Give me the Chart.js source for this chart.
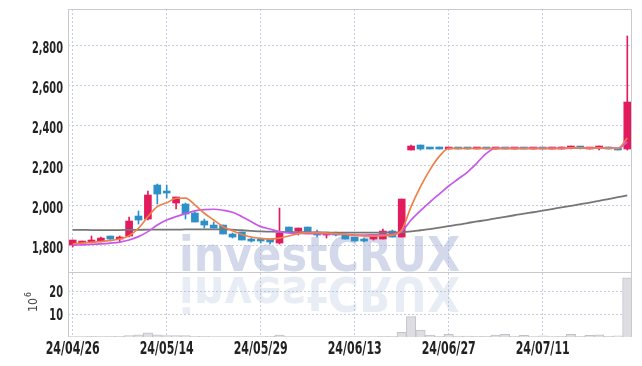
<!DOCTYPE html>
<html>
<head>
<meta charset="utf-8">
<script src="https://cdn.jsdelivr.net/npm/chart.js@4.4.1/dist/chart.umd.min.js"></script>
<style>
  html, body { margin: 0; padding: 0; background: #fff; }
  #contenedor { width: 642px; height: 366px; }
</style>
</head>
<body>
<div id="contenedor"><canvas id="grafico"></canvas></div>
<script>
// fechas de cotización (días hábiles)
const fechas = [
    '24/04/26', '24/04/29', '24/04/30', '24/05/02', '24/05/03', '24/05/07', '24/05/08', '24/05/09', '24/05/10', '24/05/13',
    '24/05/14', '24/05/16', '24/05/17', '24/05/20', '24/05/21', '24/05/22', '24/05/23', '24/05/24', '24/05/27', '24/05/28',
    '24/05/29', '24/05/30', '24/05/31', '24/06/03', '24/06/04', '24/06/05', '24/06/07', '24/06/10', '24/06/11', '24/06/12',
    '24/06/13', '24/06/14', '24/06/17', '24/06/18', '24/06/19', '24/06/20', '24/06/21', '24/06/24', '24/06/25', '24/06/26',
    '24/06/27', '24/06/28', '24/07/01', '24/07/02', '24/07/03', '24/07/04', '24/07/05', '24/07/08', '24/07/09', '24/07/10',
    '24/07/11', '24/07/12', '24/07/15', '24/07/16', '24/07/17', '24/07/18', '24/07/19', '24/07/22', '24/07/23', '24/07/24'
];

const apertura = [
    1800, 1810, 1815, 1820, 1845, 1830, 1845, 1945, 1930, 2100,
    2065, 2010, 2005, 1960, 1920, 1900, 1900, 1855, 1865, 1825,
    1825, 1830, 1810, 1890, 1870, 1890, 1865, 1850, 1860, 1850,
    1840, 1830, 1830, 1830, 1870, 1840, 2275, 2300, 2285, 2285,
    2280, 2285, 2285, 2280, 2285, 2280, 2285, 2280, 2285, 2280,
    2285, 2280, 2280, 2285, 2290, 2280, 2285, 2285, 2280, 2280
];
const maximo = [
    1825, 1820, 1845, 1840, 1845, 1845, 1940, 1970, 2070, 2105,
    2100, 2040, 2010, 1965, 1930, 1915, 1900, 1860, 1865, 1835,
    1830, 1830, 1985, 1890, 1885, 1890, 1875, 1860, 1865, 1850,
    1840, 1835, 1850, 1880, 1875, 2030, 2300, 2300, 2285, 2290,
    2285, 2285, 2285, 2285, 2285, 2285, 2285, 2285, 2285, 2285,
    2285, 2285, 2290, 2295, 2290, 2285, 2295, 2290, 2280, 2845
];
const minimo = [
    1790, 1810, 1810, 1815, 1820, 1815, 1840, 1905, 1925, 2005,
    2035, 1980, 1930, 1915, 1885, 1885, 1855, 1835, 1825, 1815,
    1810, 1805, 1805, 1860, 1850, 1860, 1840, 1835, 1845, 1830,
    1820, 1815, 1825, 1830, 1840, 1840, 2275, 2275, 2280, 2280,
    2280, 2280, 2280, 2280, 2280, 2280, 2280, 2280, 2280, 2280,
    2280, 2280, 2280, 2280, 2280, 2280, 2275, 2280, 2275, 2275
];
const cierre = [
    1825, 1815, 1820, 1835, 1830, 1835, 1920, 1925, 2050, 2055,
    2060, 2040, 1955, 1915, 1900, 1885, 1855, 1840, 1825, 1820,
    1820, 1815, 1860, 1865, 1885, 1865, 1850, 1855, 1850, 1830,
    1820, 1820, 1845, 1870, 1840, 2030, 2295, 2280, 2280, 2280,
    2285, 2280, 2280, 2285, 2280, 2285, 2280, 2285, 2280, 2285,
    2280, 2285, 2285, 2290, 2285, 2285, 2290, 2280, 2275, 2515
];

// volumen en millones
const volumen = [
    0.2, 0.2, 0.3, 0.2, 0.3, 0.3, 0.6, 1.0, 1.8, 1.0,
    0.6, 0.6, 0.6, 0.3, 0.3, 0.2, 0.2, 0.2, 0.2, 0.2,
    0.2, 0.3, 0.9, 0.2, 0.2, 0.2, 0.2, 0.2, 0.2, 0.2,
    0.2, 0.2, 0.2, 0.3, 0.3, 2.1, 9.0, 3.1, 0.9, 0.3,
    1.2, 0.4, 0.4, 0.3, 0.3, 0.9, 1.2, 0.3, 0.7, 0.2,
    0.5, 0.2, 0.3, 1.2, 0.3, 0.7, 1.0, 0.3, 0.5, 26.0
];

// medias móviles
const media5 = [
    1805, 1810, 1813, 1817, 1823, 1830, 1847, 1884, 1942, 1992,
    2011, 2034, 2035, 2001, 1959, 1925, 1892, 1872, 1853, 1840,
    1833, 1830, 1835, 1845, 1857, 1862, 1862, 1860, 1857, 1854,
    1848, 1846, 1845, 1847, 1850, 1875, 1992, 2092, 2176, 2243,
    2283, 2283, 2283, 2283, 2283, 2283, 2283, 2283, 2283, 2283,
    2283, 2283, 2284, 2286, 2286, 2285, 2286, 2285, 2283, 2335
];
const media10 = [
    1800, 1801, 1803, 1806, 1810, 1815, 1825, 1842, 1867, 1900,
    1925, 1942, 1957, 1971, 1977, 1979, 1974, 1964, 1942, 1917,
    1892, 1880, 1867, 1861, 1859, 1857, 1857, 1856, 1855, 1853,
    1850, 1850, 1851, 1852, 1854, 1868, 1925, 1972, 2015, 2055,
    2095, 2130, 2165, 2210, 2258, 2283, 2283, 2283, 2283, 2283,
    2283, 2283, 2283, 2284, 2284, 2284, 2285, 2285, 2284, 2315
];
const mediaLarga = [
    1876, 1876, 1875, 1875, 1875, 1875, 1876, 1876, 1877, 1877,
    1877, 1877, 1878, 1878, 1878, 1878, 1878, 1877, 1874, 1871,
    1868, 1867, 1866, 1865, 1864, 1864, 1863, 1863, 1862, 1862,
    1862, 1862, 1862, 1863, 1863, 1864, 1868, 1874, 1880, 1887,
    1895, 1902, 1910, 1918, 1925, 1933, 1941, 1949, 1957, 1964,
    1972, 1980, 1988, 1996, 2004, 2012, 2021, 2030, 2039, 2048
];

const ticksPrecio = [1800, 2000, 2200, 2400, 2600, 2800];
const ticksVolumen = [10, 20];

const ROJO = '#e11b5c';
const AZUL = '#2e90c8';
const GRID = '#c6cbe0';
const FUENTE = '"DejaVu Sans", sans-serif';

document.addEventListener('DOMContentLoaded', function() {
    const canvas = document.getElementById('grafico');
    const colores = cierre.map((c, i) => c >= apertura[i] ? ROJO : AZUL);

    const marcaAgua = {
        id: 'marcaAgua',
        beforeDatasetsDraw(chart) {
            const ctx = chart.ctx;
            const texto = 'investCRUX';
            ctx.save();
            ctx.font = 'bold 48px "DejaVu Sans"';
            const escalaX = 281 / ctx.measureText(texto).width;
            ctx.textBaseline = 'alphabetic';
            ctx.save();
            ctx.translate(179, 271);
            ctx.scale(escalaX, 1);
            ctx.fillStyle = 'rgba(168,180,215,0.5)';
            ctx.fillText(texto, 0, 0);
            ctx.restore();
            // reflejo
            ctx.translate(179, 277);
            ctx.scale(escalaX, -1);
            ctx.fillStyle = 'rgba(168,180,215,0.26)';
            ctx.fillText(texto, 0, 0);
            ctx.restore();
        }
    };

    // etiquetas de los ejes, comprimidas a lo ancho como en el original
    function escribir(ctx, texto, x, y, escala) {
        ctx.save();
        ctx.translate(x, y);
        ctx.scale(escala, 1);
        ctx.fillText(texto, 0, 0);
        ctx.restore();
    }

    const marcos = {
        id: 'marcos',
        afterDraw(chart) {
            const ctx = chart.ctx;
            const area = chart.chartArea;
            const sep = chart.scales.y.bottom;
            ctx.save();
            ctx.strokeStyle = '#c9c9d2';
            ctx.lineWidth = 1;
            ctx.beginPath();
            ctx.moveTo(area.left + 0.5, area.bottom);
            ctx.lineTo(area.left + 0.5, area.top + 0.5);
            ctx.lineTo(area.right - 0.5, area.top + 0.5);
            ctx.lineTo(area.right - 0.5, area.bottom);
            ctx.moveTo(area.left, Math.round(sep) + 0.5);
            ctx.lineTo(area.right, Math.round(sep) + 0.5);
            ctx.stroke();

            ctx.fillStyle = '#222';
            ctx.textBaseline = 'middle';
            ctx.textAlign = 'right';
            ctx.font = 'bold 15px ' + FUENTE;
            const escY = 31 / ctx.measureText('2,800').width;
            ticksPrecio.forEach(v => {
                escribir(ctx, v.toLocaleString('en-US'), 63, chart.scales.y.getPixelForValue(v) + 4, escY);
            });
            ticksVolumen.forEach(v => {
                escribir(ctx, String(v), 63, chart.scales.yv.getPixelForValue(v) + 2, escY);
            });
            ctx.textAlign = 'center';
            ctx.font = 'bold 17px ' + FUENTE;
            const escX = 54 / ctx.measureText('24/04/26').width;
            chart.scales.x.ticks.forEach(t => {
                escribir(ctx, fechas[t.value], chart.scales.x.getPixelForValue(t.value), 350, escX);
            });

            // unidad del volumen
            ctx.fillStyle = '#444';
            ctx.textAlign = 'left';
            ctx.textBaseline = 'alphabetic';
            ctx.translate(37, 312);
            ctx.rotate(-Math.PI / 2);
            ctx.font = '13px ' + FUENTE;
            escribir(ctx, '10', 0, 0, 0.85);
            const w = ctx.measureText('10').width * 0.85;
            ctx.font = '9px ' + FUENTE;
            escribir(ctx, '6', w + 1, -6, 0.85);
            ctx.restore();
        }
    };

    new Chart(canvas, {
        type: 'bar',
        data: {
            labels: fechas,
            datasets: [
                {
                    type: 'line',
                    data: media5,
                    borderColor: '#f0804a',
                    borderWidth: 1.7,
                    pointRadius: 0,
                    cubicInterpolationMode: 'monotone',
                    yAxisID: 'y',
                    order: 0
                },
                {
                    type: 'line',
                    data: media10,
                    borderColor: '#c957ea',
                    borderWidth: 1.7,
                    pointRadius: 0,
                    cubicInterpolationMode: 'monotone',
                    yAxisID: 'y',
                    order: 1
                },
                {
                    type: 'line',
                    data: mediaLarga,
                    borderColor: '#767676',
                    borderWidth: 1.8,
                    pointRadius: 0,
                    cubicInterpolationMode: 'monotone',
                    yAxisID: 'y',
                    order: 2
                },
                {
                    data: apertura.map((a, i) => [a, cierre[i]]),
                    backgroundColor: colores,
                    barThickness: 7,
                    minBarLength: 2,
                    grouped: false,
                    yAxisID: 'y',
                    order: 3
                },
                {
                    data: minimo.map((m, i) => [m, maximo[i]]),
                    backgroundColor: colores,
                    barThickness: 1,
                    grouped: false,
                    yAxisID: 'y',
                    order: 4
                },
                {
                    data: volumen,
                    backgroundColor: '#dddde2',
                    borderColor: '#c2c2ca',
                    borderWidth: 1,
                    barPercentage: 1,
                    categoryPercentage: 1,
                    grouped: false,
                    yAxisID: 'yv',
                    order: 5
                }
            ]
        },
        options: {
            responsive: true,
            maintainAspectRatio: false,
            animation: false,
            layout: { padding: { top: 9, right: 10, left: 0, bottom: 0 } },
            plugins: {
                legend: { display: false },
                tooltip: { enabled: false }
            },
            scales: {
                x: {
                    type: 'category',
                    offset: true,
                    grid: { offset: false, color: GRID, drawTicks: false },
                    border: { display: false, dash: [2, 2] },
                    ticks: { display: false, autoSkip: false, maxRotation: 0 },
                    afterBuildTicks: function(eje) {
                        eje.ticks = eje.ticks.filter(t => t.value % 10 === 0);
                    },
                    afterFit: function(eje) { eje.height = 29; }
                },
                yv: {
                    position: 'left',
                    stack: 'panel',
                    stackWeight: 1,
                    min: 0,
                    max: 28.6,
                    grid: { color: GRID, drawTicks: false },
                    border: { display: false, dash: [2, 2] },
                    ticks: { display: false },
                    afterBuildTicks: function(eje) {
                        eje.ticks = ticksVolumen.map(v => ({ value: v }));
                    },
                    afterFit: function(eje) { eje.width = 68; }
                },
                y: {
                    position: 'left',
                    stack: 'panel',
                    stackWeight: 4.05,
                    min: 1665,
                    max: 2980,
                    grid: { color: GRID, drawTicks: false },
                    border: { display: false, dash: [2, 2] },
                    ticks: { display: false },
                    afterBuildTicks: function(eje) {
                        eje.ticks = ticksPrecio.map(v => ({ value: v }));
                    },
                    afterFit: function(eje) { eje.width = 68; }
                }
            }
        },
        plugins: [marcaAgua, marcos]
    });
});
</script>
</body>
</html>
